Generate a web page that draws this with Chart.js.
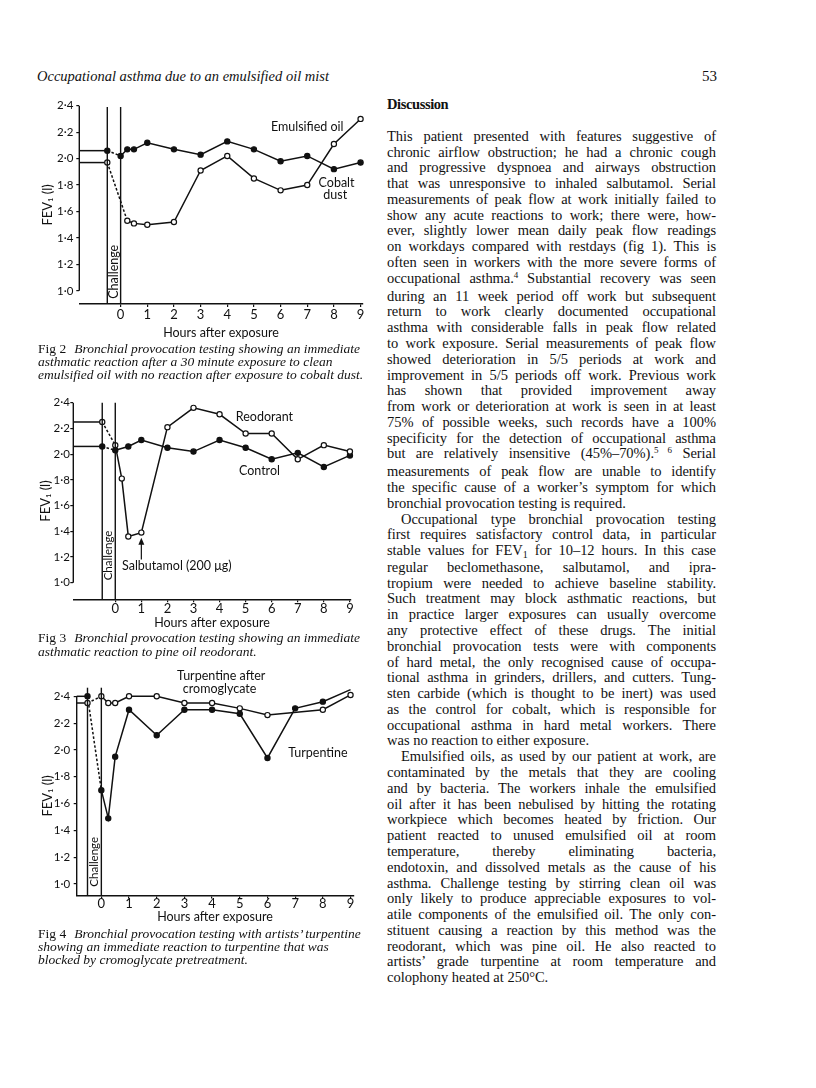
<!DOCTYPE html>
<html>
<head>
<meta charset="utf-8">
<script src="https://cdn.jsdelivr.net/npm/chart.js@4.4.1/dist/chart.umd.min.js"></script>
<style>
  body { margin: 0; background: #fff; }
  #page { position: relative; width: 816px; height: 1088px; overflow: hidden;
          font-family: "Liberation Serif", "Times New Roman", serif; color: #111; }
  .abs { position: absolute; }
  #runhead { left: 37px; top: 68px; font-style: italic; font-size: 14.5px; line-height: 16px; }
  #folio { left: 702px; top: 68px; font-size: 15px; line-height: 16px; }
  #disc { left: 387px; top: 96px; font-weight: bold; font-size: 14.5px; line-height: 16px; letter-spacing: -0.4px; }
  #col { left: 387px; top: 128.8px; width: 329px; font-size: 14.5px; line-height: 15.78px; }
  .j { text-align: justify; text-align-last: justify; }
  .ind { text-indent: 14px; }
  .sup { font-size: 9px; position: relative; top: -5px; }
  .sub { font-size: 10px; position: relative; top: 3px; }
  .cap { left: 38px; width: 335px; font-size: 13.5px; line-height: 13.4px; font-style: italic; white-space: nowrap; }
  .cap b { font-style: normal; font-weight: normal; margin-right: 8px; }
  canvas { position: absolute; }
</style>
</head>
<body>
<div id="page">
  <div id="runhead" class="abs">Occupational asthma due to an emulsified oil mist</div>
  <div id="folio" class="abs">53</div>
  <div id="disc" class="abs">Discussion</div>

  <div id="col" class="abs">
    <div class="j">This patient presented with features suggestive of</div>
    <div class="j">chronic airflow obstruction; he had a chronic cough</div>
    <div class="j">and progressive dyspnoea and airways obstruction</div>
    <div class="j">that was unresponsive to inhaled salbutamol. Serial</div>
    <div class="j">measurements of peak flow at work initially failed to</div>
    <div class="j">show any acute reactions to work; there were, how-</div>
    <div class="j">ever, slightly lower mean daily peak flow readings</div>
    <div class="j">on workdays compared with restdays (fig 1). This is</div>
    <div class="j">often seen in workers with the more severe forms of</div>
    <div class="j">occupational asthma.<span class="sup">4</span> Substantial recovery was seen</div>
    <div class="j">during an 11 week period off work but subsequent</div>
    <div class="j">return to work clearly documented occupational</div>
    <div class="j">asthma with considerable falls in peak flow related</div>
    <div class="j">to work exposure. Serial measurements of peak flow</div>
    <div class="j">showed deterioration in 5/5 periods at work and</div>
    <div class="j">improvement in 5/5 periods off work. Previous work</div>
    <div class="j">has shown that provided improvement away</div>
    <div class="j">from work or deterioration at work is seen in at least</div>
    <div class="j">75% of possible weeks, such records have a 100%</div>
    <div class="j">specificity for the detection of occupational asthma</div>
    <div class="j">but are relatively insensitive (45%–70%).<span class="sup">5 6</span> Serial</div>
    <div class="j">measurements of peak flow are unable to identify</div>
    <div class="j">the specific cause of a worker’s symptom for which</div>
    <div>bronchial provocation testing is required.</div>
    <div class="j ind">Occupational type bronchial provocation testing</div>
    <div class="j">first requires satisfactory control data, in particular</div>
    <div class="j">stable values for FEV<span class="sub">1</span> for 10–12 hours. In this case</div>
    <div class="j">regular beclomethasone, salbutamol, and ipra-</div>
    <div class="j">tropium were needed to achieve baseline stability.</div>
    <div class="j">Such treatment may block asthmatic reactions, but</div>
    <div class="j">in practice larger exposures can usually overcome</div>
    <div class="j">any protective effect of these drugs. The initial</div>
    <div class="j">bronchial provocation tests were with components</div>
    <div class="j">of hard metal, the only recognised cause of occupa-</div>
    <div class="j">tional asthma in grinders, drillers, and cutters. Tung-</div>
    <div class="j">sten carbide (which is thought to be inert) was used</div>
    <div class="j">as the control for cobalt, which is responsible for</div>
    <div class="j">occupational asthma in hard metal workers. There</div>
    <div>was no reaction to either exposure.</div>
    <div class="j ind">Emulsified oils, as used by our patient at work, are</div>
    <div class="j">contaminated by the metals that they are cooling</div>
    <div class="j">and by bacteria. The workers inhale the emulsified</div>
    <div class="j">oil after it has been nebulised by hitting the rotating</div>
    <div class="j">workpiece which becomes heated by friction. Our</div>
    <div class="j">patient reacted to unused emulsified oil at room</div>
    <div class="j">temperature, thereby eliminating bacteria,</div>
    <div class="j">endotoxin, and dissolved metals as the cause of his</div>
    <div class="j">asthma. Challenge testing by stirring clean oil was</div>
    <div class="j">only likely to produce appreciable exposures to vol-</div>
    <div class="j">atile components of the emulsified oil. The only con-</div>
    <div class="j">stituent causing a reaction by this method was the</div>
    <div class="j">reodorant, which was pine oil. He also reacted to</div>
    <div class="j">artists’ grade turpentine at room temperature and</div>
    <div>colophony heated at 250°C.</div>
  </div>

  <canvas id="fig2"></canvas>
  <div class="cap abs" style="top:341.6px">
    <div><b>Fig 2</b>Bronchial provocation testing showing an immediate</div>
    <div>asthmatic reaction after a 30 minute exposure to clean</div>
    <div>emulsified oil with no reaction after exposure to cobalt dust.</div>
  </div>

  <canvas id="fig3"></canvas>
  <div class="cap abs" style="top:631.3px">
    <div><b>Fig 3</b>Bronchial provocation testing showing an immediate</div>
    <div>asthmatic reaction to pine oil reodorant.</div>
  </div>

  <canvas id="fig4"></canvas>
  <div class="cap abs" style="top:926.5px">
    <div><b>Fig 4</b>Bronchial provocation testing with artists’ turpentine</div>
    <div>showing an immediate reaction to turpentine that was</div>
    <div>blocked by cromoglycate pretreatment.</div>
  </div>
</div>

<script>
// squeeze any justified line that would not fit the column
document.querySelectorAll('#col .j').forEach(function (el) {
    let w = el.clientWidth - (el.classList.contains('ind') ? 14 : 0);
    const m = document.createElement('span');
    m.style.whiteSpace = 'nowrap';
    m.innerHTML = el.innerHTML;
    el.innerHTML = '';
    el.appendChild(m);
    const nat = m.getBoundingClientRect().width;
    el.innerHTML = m.innerHTML;
    if (nat > w - 2) {
        el.style.letterSpacing = ((w - 2 - nat) / el.textContent.length) + 'px';
    }
});

const ink = '#111';
const hourTicks = [0, 1, 2, 3, 4, 5, 6, 7, 8, 9];
const fevTicks = [1.0, 1.2, 1.4, 1.6, 1.8, 2.0, 2.2, 2.4];

// Fig 2
const emulsHours = [-0.5, 0.25, 0.5, 1, 2, 3, 4, 5, 6, 7, 8, 9];
const emulsFev = [1.97, 1.53, 1.51, 1.50, 1.52, 1.91, 2.02, 1.85, 1.76, 1.80, 2.11, 2.30];
const cobaltHours = [-0.5, 0, 0.25, 0.5, 1, 2, 3, 4, 5, 6, 7, 8, 9];
const cobaltFev = [2.06, 2.02, 2.07, 2.07, 2.12, 2.07, 2.03, 2.13, 2.07, 1.98, 2.02, 1.92, 1.97];

// Fig 3
const reodHours = [-0.5, 0, 0.25, 0.5, 1, 2, 3, 4, 5, 6, 7, 8, 9];
const reodFev = [2.25, 2.07, 1.81, 1.36, 1.39, 2.21, 2.36, 2.31, 2.16, 2.16, 1.96, 2.07, 2.02];
const controlHours = [-0.5, 0, 0.5, 1, 2, 3, 4, 5, 6, 7, 8, 9];
const controlFev = [2.06, 2.03, 2.06, 2.11, 2.05, 2.02, 2.11, 2.05, 1.96, 2.01, 1.90, 1.99];

// Fig 4
const cromoHours = [-0.5, 0, 0.25, 0.5, 1, 2, 3, 4, 5, 6, 8, 9];
const cromoFev = [2.35, 2.40, 2.35, 2.35, 2.40, 2.40, 2.35, 2.35, 2.31, 2.26, 2.30, 2.41];
const turpHours = [-0.5, 0, 0.25, 0.5, 1, 2, 3, 4, 5, 6, 7, 8, 9];
const turpFev = [2.40, 1.70, 1.49, 1.95, 2.30, 2.11, 2.30, 2.30, 2.27, 1.94, 2.31, 2.36, 2.45];

const challengeAt = [-0.5, 0];

function series(hours, fev, filled, xStart) {
    // pre-challenge level runs in from the axis to the first reading
    const pts = [{x: xStart, y: fev[0]}].concat(hours.map((h, i) => ({x: h, y: fev[i]})));
    return {
        data: pts,
        borderColor: ink,
        borderWidth: 1.5,
        pointRadius: (c) => c.dataIndex === 0 ? 0 : 2.6,
        pointBackgroundColor: filled ? ink : '#fff',
        pointBorderColor: ink,
        pointBorderWidth: 1.2,
        segment: { borderDash: (c) => c.p0DataIndex === 1 ? [2.5, 2] : undefined },
        tension: 0,
        clip: false
    };
}

const figDecor = {
    id: 'figDecor',
    afterDatasetsDraw(chart, args, o) {
        const {ctx, chartArea} = chart;
        const x = chart.scales.x, y = chart.scales.y;
        ctx.save();
        ctx.strokeStyle = ink;
        ctx.fillStyle = ink;
        ctx.lineWidth = 1.4;
        // y axis line
        ctx.beginPath();
        ctx.moveTo(chartArea.left, o.axisFrom === null ? chartArea.bottom : y.getPixelForValue(o.axisFrom));
        ctx.lineTo(chartArea.left, y.getPixelForValue(2.4));
        ctx.stroke();
        // challenge period
        challengeAt.forEach(function (h) {
            const px = x.getPixelForValue(h);
            ctx.beginPath();
            ctx.moveTo(px, y.getPixelForValue(o.challengeTop));
            ctx.lineTo(px, chartArea.bottom);
            ctx.stroke();
        });
        const mid = (x.getPixelForValue(challengeAt[0]) + x.getPixelForValue(challengeAt[1])) / 2;
        ctx.save();
        ctx.translate(mid, y.getPixelForValue(o.challengeY));
        ctx.rotate(-Math.PI / 2);
        ctx.font = o.challengeSize + 'px Lato';
        ctx.textAlign = 'center';
        ctx.textBaseline = 'middle';
        ctx.fillText('Challenge', 0, 0);
        ctx.restore();
        // series labels
        ctx.textAlign = 'center';
        ctx.textBaseline = 'middle';
        o.labels.forEach(function (l) {
            ctx.font = (l.size || 12.5) + 'px Lato';
            ctx.fillText(l.text, x.getPixelForValue(l.x), y.getPixelForValue(l.y));
        });
        if (o.arrow) {
            const ax = x.getPixelForValue(o.arrow.x);
            const y0 = y.getPixelForValue(o.arrow.from), y1 = y.getPixelForValue(o.arrow.to);
            ctx.lineWidth = 1.2;
            ctx.beginPath();
            ctx.moveTo(ax, y0);
            ctx.lineTo(ax, y1 + 4);
            ctx.stroke();
            ctx.beginPath();
            ctx.moveTo(ax, y1);
            ctx.lineTo(ax - 3, y1 + 7);
            ctx.lineTo(ax + 3, y1 + 7);
            ctx.closePath();
            ctx.fill();
        }
        ctx.restore();
    }
};

function fevChart(id, g, datasets, decor) {
    const cv = document.getElementById(id);
    const yTitleLH = 13, xTitleLH = 12.5;
    const padLeft = g.yTitleX - yTitleLH / 2 - g.left;
    const yWidth = g.area.l - g.left - padLeft;
    const padTop = g.area.t - g.top;
    const padRight = g.left + g.width - g.area.r;
    const xHeight = g.xTitleY + xTitleLH / 2 - g.area.b;
    const height = g.area.b + xHeight + 4 - g.top;
    cv.width = g.width;
    cv.height = Math.round(height);
    cv.style.left = g.left + 'px';
    cv.style.top = g.top + 'px';
    cv.style.width = g.width + 'px';
    cv.style.height = Math.round(height) + 'px';

    return new Chart(cv, {
        type: 'line',
        data: { datasets: datasets },
        plugins: [figDecor],
        options: {
            responsive: false,
            animation: false,
            devicePixelRatio: 1,
            layout: { padding: { left: padLeft, top: padTop, right: padRight, bottom: 4 } },
            plugins: {
                legend: { display: false },
                tooltip: { enabled: false },
                figDecor: decor
            },
            scales: {
                x: {
                    type: 'linear',
                    bounds: 'data',
                    min: g.xMin, max: g.xMax,
                    afterBuildTicks: (s) => { s.ticks = hourTicks.map(v => ({value: v})); },
                    afterFit: (s) => { s.height = xHeight; },
                    ticks: { color: ink, padding: g.xTickPad, maxRotation: 0, autoSkip: false,
                             font: { family: 'Lato', size: 13, lineHeight: 1 } },
                    grid: { drawOnChartArea: false, tickLength: 3, color: ink, lineWidth: 1.2 },
                    border: { display: true, color: ink, width: 1.5 },
                    title: { display: true, text: 'Hours after exposure', color: ink, padding: 0,
                             font: { family: 'Lato', size: 12.5, lineHeight: 1 } }
                },
                y: {
                    type: 'linear',
                    bounds: 'data',
                    min: g.yMin, max: 2.4,
                    afterBuildTicks: (s) => { s.ticks = fevTicks.map(v => ({value: v})); },
                    afterFit: (s) => { s.width = yWidth; },
                    ticks: { color: ink, padding: g.yTickPad, autoSkip: false,
                             font: { family: 'Lato', size: 11.5, lineHeight: 1 },
                             callback: (v) => v.toFixed(1).replace('.', '·') },
                    grid: { drawOnChartArea: false, tickLength: 3, color: ink, lineWidth: 1.2 },
                    border: { display: false },
                    title: { display: true, text: 'FEV₁ (l)', color: ink, padding: 0,
                             font: { family: 'Lato', size: 13, lineHeight: 1 } }
                }
            }
        }
    });
}

fevChart('fig2',
    { left: 30, top: 88, width: 340, area: { l: 79.3, t: 105.7, r: 362.7, b: 304 },
      yTitleX: 48, xTitleY: 332.7, xMin: -1.55, xMax: 9.08, yMin: 0.9, xTickPad: 1.2, yTickPad: 3 },
    [series(emulsHours, emulsFev, false, -1.55), series(cobaltHours, cobaltFev, true, -1.55)],
    { axisFrom: 1.0, challengeTop: 2.39, challengeY: 1.144, challengeSize: 12.5,
      labels: [{ text: 'Emulsified oil', x: 7.0, y: 2.24 },
               { text: 'Cobalt', x: 8.1, y: 1.815 },
               { text: 'dust', x: 8.05, y: 1.725 }] });

fevChart('fig3',
    { left: 28, top: 385, width: 330, area: { l: 73.3, t: 402.7, r: 350.7, b: 599.3 },
      yTitleX: 46, xTitleY: 622.7, xMin: -1.61, xMax: 9.03, yMin: 0.871, xTickPad: 0, yTickPad: 0.5 },
    [series(reodHours, reodFev, false, -1.61), series(controlHours, controlFev, true, -1.61)],
    { axisFrom: 1.0, challengeTop: 2.4, challengeY: 1.212, challengeSize: 11.5,
      labels: [{ text: 'Reodorant', x: 5.72, y: 2.29 },
               { text: 'Control', x: 5.53, y: 1.873 },
               { text: 'Salbutamol (200 μg)', x: 2.36, y: 1.13 }],
      arrow: { x: 1, from: 1.18, to: 1.35 } });

fevChart('fig4',
    { left: 30, top: 660, width: 330, area: { l: 76.7, t: 696.3, r: 353.3, b: 895.7 },
      yTitleX: 48, xTitleY: 917, xMin: -0.89, xMax: 9.1, yMin: 0.915, xTickPad: -1.2, yTickPad: 3.5 },
    [series(cromoHours, cromoFev, false, -0.89), series(turpHours, turpFev, true, -0.89)],
    { axisFrom: null, challengeTop: 2.464, challengeY: 1.166, challengeSize: 11.5,
      labels: [{ text: 'Turpentine after', x: 4.33, y: 2.555 },
               { text: 'cromoglycate', x: 4.27, y: 2.454 },
               { text: 'Turpentine', x: 7.82, y: 1.979 }] });
</script>
</body>
</html>
